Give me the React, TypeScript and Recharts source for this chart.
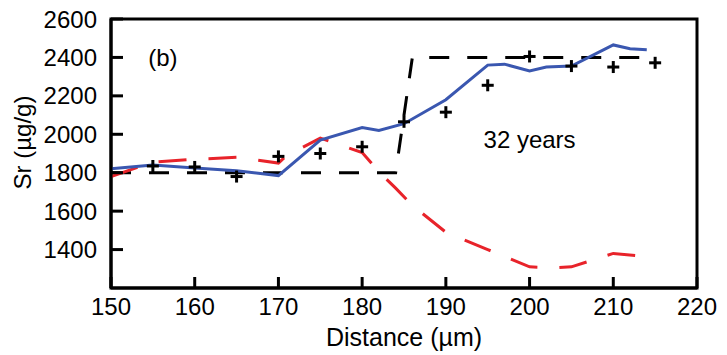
import React from 'react';
import {
  ComposedChart,
  Line,
  Scatter,
  XAxis,
  YAxis,
  ReferenceArea,
  ReferenceDot,
} from 'recharts';

// model curve (blue, solid)
const modelDistance = [150, 155, 160, 165, 170, 175, 180, 182, 185, 190, 195, 197, 200, 202, 205, 210, 212, 214];
const modelSr = [1820, 1840, 1825, 1810, 1785, 1970, 2035, 2020, 2055, 2180, 2360, 2365, 2330, 2350, 2355, 2465, 2445, 2440];

// second profile (red, long dashes)
const redDistance = [150, 155, 160, 165, 170, 171, 175, 177, 180, 182, 184, 186, 190, 195, 200, 203, 205, 210, 215];
const redSr = [1780, 1855, 1870, 1880, 1850, 1890, 1980, 1950, 1905, 1805, 1720, 1630, 1490, 1400, 1310, 1305, 1310, 1380, 1360];

// initial step profile (black, dashed)
const stepDistance = [150, 184, 186, 215];
const stepSr = [1800, 1800, 2400, 2400];

// measured points (+)
const measDistance = [155, 160, 165, 170, 175, 180, 185, 190, 195, 200, 205, 210, 215];
const measSr = [1835, 1830, 1780, 1885, 1900, 1935, 2065, 2115, 2255, 2405, 2355, 2350, 2372];

const xTicks = [150, 160, 170, 180, 190, 200, 210, 220];
const yTicks = [1400, 1600, 1800, 2000, 2200, 2400, 2600];

const toRows = (xs: number[], ys: number[]) => xs.map((d, i) => ({ d, v: ys[i] }));

const modelData = toRows(modelDistance, modelSr);
const redData = toRows(redDistance, redSr);
const stepData = toRows(stepDistance, stepSr);
const measData = toRows(measDistance, measSr);

const FONT = '"Liberation Sans", Arial, sans-serif';

const XTick = (props: any) => {
  const { x, y, payload } = props;
  return (
    <g>
      <line x1={x} x2={x} y1={y} y2={y - 11} stroke="#000" strokeWidth={3} />
      <text x={x} y={y + 27} textAnchor="middle" fontSize={24} fontFamily={FONT} fill="#000">
        {payload.value}
      </text>
    </g>
  );
};

const YTick = (props: any) => {
  const { x, y, payload } = props;
  return (
    <g>
      <line x1={x} x2={x + 12} y1={y} y2={y} stroke="#000" strokeWidth={3} />
      <text x={x - 14} y={y} textAnchor="end" dominantBaseline="central" fontSize={24} fontFamily={FONT} fill="#000">
        {payload.value}
      </text>
    </g>
  );
};

const Cross = (props: any) => {
  const { cx, cy } = props;
  return (
    <g stroke="#000" strokeWidth={3}>
      <line x1={cx - 6} x2={cx + 6} y1={cy} y2={cy} />
      <line x1={cx} x2={cx} y1={cy - 6} y2={cy + 6} />
    </g>
  );
};

const XLabel = (props: any) => {
  const { x, y, width } = props.viewBox;
  return (
    <text x={x + width / 2} y={y + 58} textAnchor="middle" fontSize={25} fontFamily={FONT} fill="#000">
      Distance (µm)
    </text>
  );
};

const YLabel = (props: any) => {
  const { x, y, height } = props.viewBox;
  return (
    <text
      transform={`translate(${x - 9}, ${y + height / 2 - 11}) rotate(-90)`}
      textAnchor="middle"
      dominantBaseline="central"
      fontSize={24}
      fontFamily={FONT}
      fill="#000"
    >
      Sr (µg/g)
    </text>
  );
};

export default function App() {
  return (
    <div style={{ position: 'absolute', left: 0, top: 0, width: 727, height: 355 }}>
      <ComposedChart width={727} height={355} margin={{ top: 19, right: 30, bottom: 7, left: 31 }}>
        <XAxis
          type="number"
          dataKey="d"
          domain={[150, 220]}
          ticks={xTicks}
          tickSize={0}
          tickMargin={0}
          tickLine={false}
          axisLine={{ stroke: '#000', strokeWidth: 3 }}
          tick={<XTick />}
          height={60}
          allowDataOverflow
          label={<XLabel />}
        />
        <YAxis
          type="number"
          dataKey="v"
          domain={[1200, 2600]}
          ticks={yTicks}
          tickSize={0}
          tickMargin={0}
          tickLine={false}
          axisLine={{ stroke: '#000', strokeWidth: 3 }}
          tick={<YTick />}
          width={80}
          allowDataOverflow
          label={<YLabel />}
        />
        <ReferenceArea x1={150} x2={220} y1={1200} y2={2600} fill="none" stroke="#000" strokeWidth={3} />
        <Line
          data={stepData}
          dataKey="v"
          type="linear"
          stroke="#000"
          strokeWidth={3}
          strokeDasharray="20 18"
          dot={false}
          isAnimationActive={false}
        />
        <Line
          data={redData}
          dataKey="v"
          type="linear"
          stroke="#e8232a"
          strokeWidth={3}
          strokeDasharray="28 22"
          dot={false}
          isAnimationActive={false}
        />
        <Line
          data={modelData}
          dataKey="v"
          type="linear"
          stroke="#3a57b0"
          strokeWidth={3}
          dot={false}
          isAnimationActive={false}
        />
        <Scatter data={measData} dataKey="v" shape={<Cross />} isAnimationActive={false} />
        <ReferenceDot
          x={156.2}
          y={2400}
          r={0}
          stroke="none"
          label={{ value: '(b)', position: 'center', fontSize: 24, fontFamily: FONT, fill: '#000' }}
        />
        <ReferenceDot
          x={200}
          y={1975}
          r={0}
          stroke="none"
          label={{ value: '32 years', position: 'center', fontSize: 24, fontFamily: FONT, fill: '#000' }}
        />
      </ComposedChart>
    </div>
  );
}
